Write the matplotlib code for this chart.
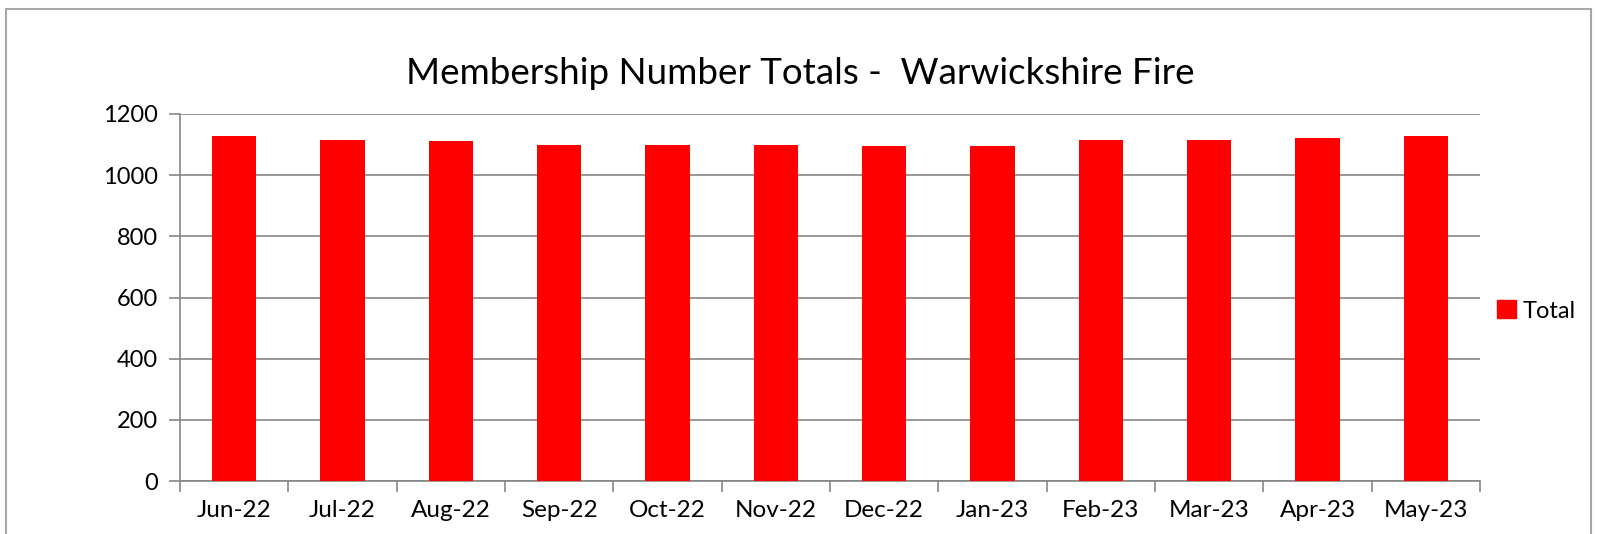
import matplotlib
matplotlib.use("Agg")
import matplotlib.pyplot as plt
from matplotlib.patches import Rectangle, Patch
import numpy as np

months = ["Jun-22", "Jul-22", "Aug-22", "Sep-22", "Oct-22", "Nov-22",
          "Dec-22", "Jan-23", "Feb-23", "Mar-23", "Apr-23", "May-23"]
totals = [1129, 1116, 1113, 1100, 1100, 1100, 1097, 1097, 1116, 1116, 1120, 1129]
yticks = [0, 200, 400, 600, 800, 1000, 1200]

plt.rcParams['font.family'] = ['Lato', 'DejaVu Sans']

W, H = 1598, 534
fig = plt.figure(figsize=(W / 100, H / 100), dpi=100)

# outer chart border
fig.patches.append(Rectangle((6 / W, -0.05), (1591 - 6) / W, 1 - 9 / H + 0.05,
                             transform=fig.transFigure, fill=False,
                             edgecolor="#a6a6a6", linewidth=1.5))

left, right, top, bottom = 180, 1480, 114, 481
ax = fig.add_axes([left / W, 1 - bottom / H, (right - left) / W, (bottom - top) / H])

x = np.arange(len(months))
ax.bar(x, totals, width=0.41, color="#ff0000", label="Total", zorder=3)

ax.set_xlim(-0.5, len(months) - 0.5)
ax.set_ylim(0, 1200)
ax.set_yticks(yticks)
ax.set_yticklabels([str(v) for v in yticks], fontsize=17)
ax.yaxis.grid(True, color="#868686", linewidth=1.2, zorder=0)

ax.set_xticks(x)
ax.set_xticklabels(months, fontsize=17.5)
ax.tick_params(axis="x", length=0, pad=14)
ax.set_xticks(np.arange(-0.5, len(months), 1), minor=True)
ax.tick_params(axis="x", which="minor", length=8, color="#868686", width=1.2)
ax.tick_params(axis="y", length=8, color="#868686", width=1.2, pad=8)

for s in ["top", "right"]:
    ax.spines[s].set_visible(False)
for s in ["left", "bottom"]:
    ax.spines[s].set_color("#868686")
    ax.spines[s].set_linewidth(1.2)

fig.text(800 / W, 1 - 73 / H, "Membership Number Totals -  Warwickshire Fire",
         ha="center", va="center", fontsize=26.5)

leg = fig.legend(handles=[Patch(color="#ff0000", label="Total")],
                 loc="center left", bbox_to_anchor=(1497 / W, 1 - 311 / H),
                 frameon=False, fontsize=17, handlelength=0.8, handleheight=0.8,
                 handletextpad=0.3, borderaxespad=0, borderpad=0)

fig.savefig("out.png", dpi=100)
